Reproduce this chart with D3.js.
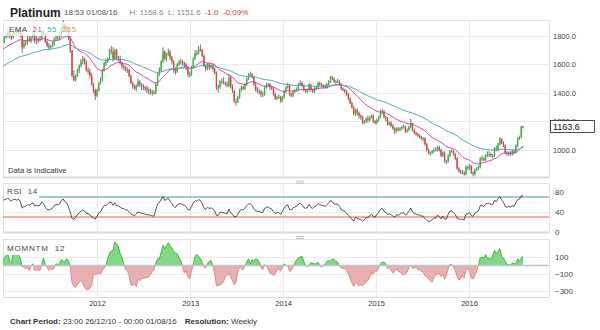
<!DOCTYPE html>
<html>
<head>
<meta charset="utf-8">
<script src="https://cdn.jsdelivr.net/npm/d3@7"></script>
<style>
  body { margin: 0; background: #fff; }
  svg { font-family: "Liberation Sans", Arial, sans-serif; display: block; }
</style>
</head>
<body>
<svg id="chart" width="600" height="330"></svg>
<script>
// ---- Weekly platinum quotes, one candle per week starting Sunday 26/12/2010 ----
const firstWeek = "2010-12-26";

// closes of the 12 weeks before the first candle (Oct - Dec 2010), used by the indicators
const priorCloses = [1690, 1700, 1680, 1700, 1760, 1770, 1670, 1680, 1690, 1710, 1720, 1740];

const closes = [
  1760,
  1790,1800,1830,1800,1790, 1830,1830,1820,1840, 1810,1720,1750,1750, 1780,1770,1790,1810,
  1770,1780,1770,1780,1830, 1810,1760,1730,1720, 1730,1740,1780,1790,1790, 1800,1850,1880,1850,
  1840,1790,1700,1520, 1490,1520,1560,1590,1620, 1640,1620,1560,1550, 1520,1460,1420,1380,
  1420,1470,1490,1560,1610, 1620,1640,1700,1690, 1640,1700,1640,1640, 1610,1590,1580,1560,1560,
  1520,1470,1450,1430, 1450,1480,1460,1450, 1440,1430,1420,1420,1410, 1400,1400,1460,1530,
  1560,1620,1690,1640,1670, 1690,1650,1620,1570, 1550,1600,1620,1620, 1610,1600,1580,1530,1530,
  1580,1640,1680,1680, 1710,1700,1660,1590, 1570,1600,1580,1590,1570, 1540,1440,1440,1480,
  1480,1470,1460,1450, 1510,1440,1410,1340,1340, 1370,1420,1440,1430, 1460,1500,1530,1530,
  1510,1460,1420,1410,1410, 1390,1390,1440,1450, 1460,1440,1430,1390, 1360,1370,1370,1340,1370,
  1410,1440,1450,1390, 1380,1410,1420,1430, 1460,1470,1450,1420,1410, 1420,1460,1420,1410,
  1430,1440,1470,1460, 1450,1450,1440,1460,1480, 1510,1500,1480,1480, 1480,1460,1430,1420,1410,
  1390,1360,1330,1300, 1250,1280,1260,1240, 1230,1190,1200,1220,1210, 1230,1240,1200,1190,
  1210,1230,1260,1270, 1230,1220,1180,1190, 1170,1150,1130,1150,1140, 1150,1160,1160,1130,
  1140,1160,1190,1140,1120, 1110,1100,1090,1080, 1080,1040,1000,980, 980,990,1000,1000,1020,
  1000,960,980,920, 920,960,990,990, 970,940,870,850,840, 840,830,880,880,
  890,840,830,860,870, 880,940,940,930, 960,970,970,960, 960,1010,1000,1040,
  1080,1050,1030,980,970, 980,970,990,980, 1030,1080,1090,1164.6,1163.6
];

const highs = [
  1770,
  1800,1820,1850,1840,1810, 1840,1850,1860,1850, 1860,1820,1770,1770, 1800,1800,1800,1830,
  1870,1800,1790,1800,1840, 1840,1820,1770,1750, 1740,1760,1790,1800,1810, 1830,1860,1920,1890,
  1880,1850,1800,1700, 1560,1530,1570,1600,1640, 1660,1650,1630,1580, 1570,1540,1470,1430,
  1430,1480,1510,1570,1620, 1640,1650,1710,1730, 1720,1710,1710,1660, 1660,1620,1600,1590,1580,
  1570,1530,1480,1460, 1460,1500,1490,1470, 1460,1450,1450,1440,1430, 1420,1420,1470,1540,
  1580,1630,1720,1700,1680, 1710,1700,1660,1630, 1580,1610,1630,1640, 1630,1620,1610,1590,1550,
  1590,1650,1700,1700, 1730,1740,1710,1670, 1600,1610,1610,1600,1600, 1580,1550,1460,1490,
  1500,1510,1480,1480, 1530,1520,1460,1420,1360, 1380,1430,1450,1450, 1470,1510,1540,1550,
  1540,1520,1480,1440,1430, 1420,1410,1450,1470, 1470,1470,1450,1440, 1400,1380,1390,1380,1380,
  1420,1450,1470,1460, 1400,1420,1430,1440, 1470,1490,1480,1460,1430, 1430,1470,1460,1430,
  1440,1450,1480,1480, 1470,1460,1460,1470,1490, 1520,1520,1510,1490, 1500,1490,1470,1440,1430,
  1420,1400,1370,1340, 1310,1290,1290,1270, 1250,1240,1210,1230,1240, 1240,1250,1250,1210,
  1220,1240,1280,1290, 1280,1240,1230,1200, 1200,1180,1160,1160,1160, 1160,1170,1180,1170,
  1150,1170,1220,1190,1150, 1130,1120,1110,1100, 1090,1090,1050,1010, 990,1000,1010,1020,1030,
  1030,1010,990,990, 930,970,1000,1010, 1000,980,950,880,860, 860,850,890,890,
  900,890,850,870,880, 890,950,960,950, 970,990,990,980, 970,1020,1030,1050,
  1090,1080,1060,1040,990, 990,990,1000,1000, 1040,1090,1100,1170,1168.6
];

const lows = [
  1730,
  1750,1780,1790,1780,1770, 1780,1810,1800,1800, 1790,1680,1710,1730, 1740,1760,1750,1780,
  1750,1740,1750,1760,1770, 1800,1750,1720,1700, 1710,1720,1730,1770,1770, 1770,1790,1840,1830,
  1820,1770,1680,1510, 1480,1480,1510,1540,1580, 1600,1600,1550,1530, 1500,1450,1400,1350,
  1370,1410,1460,1480,1550, 1590,1610,1630,1670, 1620,1630,1630,1620, 1600,1570,1560,1550,1540,
  1510,1460,1430,1420, 1410,1440,1440,1420, 1420,1410,1400,1390,1390, 1380,1390,1390,1450,
  1520,1550,1610,1630,1620, 1660,1630,1600,1540, 1530,1540,1590,1600, 1590,1580,1560,1510,1510,
  1520,1570,1630,1660, 1670,1690,1650,1580, 1550,1560,1560,1570,1550, 1530,1420,1400,1430,
  1460,1460,1450,1440, 1440,1430,1400,1330,1310, 1330,1360,1410,1420, 1420,1450,1490,1510,
  1500,1450,1410,1400,1390, 1370,1370,1380,1430, 1440,1420,1420,1380, 1350,1350,1360,1330,1340,
  1360,1400,1430,1380, 1370,1370,1400,1410, 1420,1450,1440,1410,1400, 1400,1410,1410,1400,
  1400,1420,1430,1450, 1440,1430,1430,1430,1450, 1470,1490,1470,1460, 1470,1450,1420,1410,1400,
  1380,1350,1320,1290, 1240,1240,1240,1220, 1210,1180,1180,1190,1190, 1200,1220,1190,1180,
  1180,1200,1220,1250, 1220,1200,1170,1170, 1160,1140,1110,1120,1130, 1130,1140,1150,1120,
  1120,1130,1150,1130,1110, 1100,1090,1080,1070, 1060,1030,990,970, 960,970,980,990,990,
  990,950,950,910, 900,910,950,980, 960,930,860,840,830, 830,820,820,860,
  860,830,815,820,850, 860,870,920,920, 920,950,950,950, 940,950,990,990,
  1030,1040,1020,970,960, 960,960,960,970, 980,1020,1070,1080,1151.6
];

// indicator settings and their starting state carried over from earlier history
const emaPeriods = [21, 55];
const emaSeeds = [1700, 1580];
const rsiPeriod = 14;
const rsiSeedGain = 20, rsiSeedLoss = 13;
const momPeriod = 12;

// tick labels
const priceTicks = [1000, 1200, 1400, 1600, 1800];
const rsiTicks = [0, 40, 80];
const momTicks = [100, -100, -300];
const yearTicks = ["2012", "2013", "2014", "2015", "2016"];

// header / footer text
const titleText = "Platinum";
const timeText = "18:53 01/08/16";
const hiloText = "H: 1168.6  L: 1151.6";
const changeText = "-1.0  -0.09%";
const lastPrice = 1163.6;

// ---------------- derived series ----------------
const parseDay = d3.utcParse("%Y-%m-%d");
const start = parseDay(firstWeek);
const dates = closes.map((c, i) => d3.utcDay.offset(start, 7 * i));
const prevCloseAt = i => (i > 0 ? closes[i - 1] : priorCloses[priorCloses.length - 1]);
const opens = closes.map((c, i) => prevCloseAt(i));

function ema(period, seed) {
  const k = 2 / (period + 1);
  let e = seed;
  return closes.map(c => (e = e + k * (c - e)));
}
const emaLines = emaPeriods.map((p, j) => ema(p, emaSeeds[j]));

let ag = rsiSeedGain, al = rsiSeedLoss;
const rsi = closes.map((c, i) => {
  const ch = c - prevCloseAt(i);
  ag = (ag * (rsiPeriod - 1) + Math.max(ch, 0)) / rsiPeriod;
  al = (al * (rsiPeriod - 1) + Math.max(-ch, 0)) / rsiPeriod;
  return 100 - 100 / (1 + ag / al);
});

const allCloses = priorCloses.concat(closes);
const mom = closes.map((c, i) => c - allCloses[i + priorCloses.length - momPeriod]);

// ---------------- layout ----------------
const svg = d3.select("#chart");
const left = 3, right = 549;
const main = { top: 20, bottom: 177 };
const rsiP = { top: 183, bottom: 232 };
const momP = { top: 239, bottom: 297 };

const x = d3.scaleUtc()
  .domain([new Date(Date.UTC(2010, 11, 16)), new Date(Date.UTC(2016, 10, 10))])
  .range([0, 549]);
const yP = d3.scaleLinear().domain([810, 1912]).range([main.bottom, main.top]);
const yR = d3.scaleLinear().domain([0, 98]).range([rsiP.bottom, rsiP.top]);
const yM = d3.scaleLinear().domain([-375, 315]).range([momP.bottom, momP.top]);

const yearDates = yearTicks.map(y => new Date(Date.UTC(+y, 0, 1)));
const gridColor = "#ebebeb";

const defs = svg.append("defs");
function clip(id, x0, y0, w, h) {
  defs.append("clipPath").attr("id", id).append("rect")
    .attr("x", x0).attr("y", y0).attr("width", w).attr("height", h);
}
clip("clipMain", left, main.top, right - left, main.bottom - main.top);
clip("clipRsi", left, rsiP.top, right - left, rsiP.bottom - rsiP.top);
clip("clipMomUp", left, momP.top, right - left, yM(0) - momP.top);
clip("clipMomDn", left, yM(0), right - left, momP.bottom - yM(0));

// panel frames, grids
[main, rsiP, momP].forEach(p => {
  svg.append("rect").attr("x", left + 0.5).attr("y", p.top + 0.5)
    .attr("width", right - left).attr("height", p.bottom - p.top)
    .attr("fill", "none").attr("stroke", "#e2e2e2");
  svg.append("g").selectAll("line").data(yearDates).join("line")
    .attr("x1", d => Math.round(x(d)) + 0.5).attr("x2", d => Math.round(x(d)) + 0.5)
    .attr("y1", p.top).attr("y2", p.bottom)
    .attr("stroke", gridColor);
});
function hGrid(scale, vals) {
  svg.append("g").selectAll("line").data(vals).join("line")
    .attr("x1", left).attr("x2", right)
    .attr("y1", d => Math.round(scale(d)) + 0.5).attr("y2", d => Math.round(scale(d)) + 0.5)
    .attr("stroke", gridColor);
}
hGrid(yP, priceTicks);
hGrid(yR, [40]);
hGrid(yM, momTicks);

// panel separators with drag handles
[[main.bottom, 2], [rsiP.bottom, 2], [momP.bottom, 1]].forEach(([yy, w]) => {
  svg.append("line").attr("x1", left).attr("x2", right).attr("y1", yy + 0.5).attr("y2", yy + 0.5)
    .attr("stroke", "#d6dce2").attr("stroke-width", w);
});
[181, 236.5].forEach(yy => {
  [0, 2].forEach(dy => svg.append("line")
    .attr("x1", 296).attr("x2", 304).attr("y1", yy + dy).attr("y2", yy + dy)
    .attr("stroke", "#c4c4c4").attr("stroke-width", 1));
});

// ---------------- price panel ----------------
const gMain = svg.append("g").attr("clip-path", "url(#clipMain)");
const candles = gMain.append("g").selectAll("g").data(closes.map((c, i) => i)).join("g");
candles.append("line")
  .attr("x1", i => x(dates[i])).attr("x2", i => x(dates[i]))
  .attr("y1", i => yP(highs[i])).attr("y2", i => yP(lows[i]))
  .attr("stroke", "#666").attr("stroke-width", 0.9);
candles.append("rect")
  .attr("x", i => x(dates[i]) - 0.7).attr("width", 1.4)
  .attr("y", i => yP(Math.max(opens[i], closes[i])))
  .attr("height", i => Math.max(1, Math.abs(yP(opens[i]) - yP(closes[i]))))
  .attr("fill", i => (closes[i] >= opens[i] ? "#2cc42c" : "#f03c3c"));

const emaColors = ["#d4479f", "#46a8c2"];
emaLines.forEach((vals, j) => {
  gMain.append("path")
    .attr("d", d3.line().x((v, i) => x(dates[i])).y(v => yP(v))(vals))
    .attr("fill", "none").attr("stroke", emaColors[j]).attr("stroke-width", 1);
});

const priceAxis = svg.append("g").attr("transform", `translate(553,0)`)
  .call(d3.axisRight(yP).tickValues(priceTicks).tickFormat(d3.format(".1f")).tickSize(0).tickPadding(0));
priceAxis.select(".domain").remove();
priceAxis.selectAll("text").attr("font-size", 7.5).attr("fill", "#444").attr("font-family", null);

// last price marker (drawn over the axis label it sits on)
const lpY = yP(lastPrice);
svg.append("rect").attr("x", 550.5).attr("y", Math.round(lpY) - 6.5).attr("width", 44).attr("height", 12)
  .attr("fill", "#fff").attr("stroke", "#222").attr("stroke-width", 0.8);
svg.append("text").attr("x", 553).attr("y", Math.round(lpY) + 3).attr("font-size", 9).attr("fill", "#111")
  .text(d3.format(".1f")(lastPrice));

// EMA legend
svg.append("rect").attr("x", 5).attr("y", 22).attr("width", 70).attr("height", 14)
  .attr("fill", "#fff").attr("fill-opacity", 0.7);
const emaLegend = svg.append("text").attr("x", 9).attr("y", 32).attr("font-size", 8).attr("letter-spacing", 0.4);
emaLegend.append("tspan").attr("fill", "#444").text("EMA");
emaLegend.append("tspan").attr("dx", 5).attr("fill", emaColors[0]).text("21");
emaLegend.append("tspan").attr("dx", 5).attr("fill", emaColors[1]).text("55");
emaLegend.append("tspan").attr("dx", 5).attr("fill", "#c8a35e").text("255");

svg.append("text").attr("x", 8).attr("y", 173).attr("font-size", 7.7).attr("fill", "#333")
  .text("Data is Indicative");

// ---------------- RSI panel ----------------
svg.append("line").attr("x1", left).attr("x2", right).attr("y1", yR(70)).attr("y2", yR(70))
  .attr("stroke", "#9fc7da").attr("stroke-width", 2);
svg.append("line").attr("x1", left).attr("x2", right).attr("y1", yR(30)).attr("y2", yR(30))
  .attr("stroke", "#f25a5a").attr("stroke-width", 1.2);
svg.append("g").attr("clip-path", "url(#clipRsi)").append("path")
  .attr("d", d3.line().x((v, i) => x(dates[i])).y(v => yR(v))(rsi))
  .attr("fill", "none").attr("stroke", "#2a2a2a").attr("stroke-width", 0.8);

const rsiAxis = svg.append("g").attr("transform", `translate(555,0)`)
  .call(d3.axisRight(yR).tickValues(rsiTicks).tickSize(0).tickPadding(0));
rsiAxis.select(".domain").remove();
rsiAxis.selectAll("text").attr("font-size", 8).attr("fill", "#444").attr("font-family", null);

svg.append("rect").attr("x", 4).attr("y", 184).attr("width", 35).attr("height", 14).attr("fill", "#fff");
svg.append("text").attr("x", 7).attr("y", 194).attr("font-size", 8).attr("fill", "#444")
  .attr("letter-spacing", 0.6).attr("xml:space", "preserve").text("RSI  14");

// ---------------- Momentum panel ----------------
const momArea = d3.area().x((v, i) => x(dates[i])).y0(yM(0)).y1(v => yM(v));
const momLine = d3.line().x((v, i) => x(dates[i])).y(v => yM(v));
const up = svg.append("g").attr("clip-path", "url(#clipMomUp)");
up.append("path").attr("d", momArea(mom)).attr("fill", "#85d685");
up.append("path").attr("d", momLine(mom)).attr("fill", "none").attr("stroke", "#2fb52f").attr("stroke-width", 0.9);
const dn = svg.append("g").attr("clip-path", "url(#clipMomDn)");
dn.append("path").attr("d", momArea(mom)).attr("fill", "#e8b0b0");
dn.append("path").attr("d", momLine(mom)).attr("fill", "none").attr("stroke", "#e07f7f").attr("stroke-width", 0.9);
svg.append("line").attr("x1", left).attr("x2", right).attr("y1", yM(0)).attr("y2", yM(0))
  .attr("stroke", "#b9c7d4").attr("stroke-width", 1.3);

const momAxis = svg.append("g").attr("transform", `translate(555,0)`)
  .call(d3.axisRight(yM).tickValues(momTicks).tickSize(0).tickPadding(0));
momAxis.select(".domain").remove();
momAxis.selectAll("text").attr("font-size", 8).attr("fill", "#444").attr("font-family", null);

svg.append("rect").attr("x", 4).attr("y", 240).attr("width", 66).attr("height", 15).attr("fill", "#fff").attr("fill-opacity", 0.85);
svg.append("text").attr("x", 7).attr("y", 251).attr("font-size", 8).attr("fill", "#444")
  .attr("letter-spacing", 0.8).attr("xml:space", "preserve").text("MOMNTM  12");

// time axis
const xAxis = svg.append("g").attr("transform", `translate(0,${momP.bottom + 2})`)
  .call(d3.axisBottom(x).tickValues(yearDates).tickFormat(d3.utcFormat("%Y")).tickSize(0).tickPadding(2));
xAxis.select(".domain").remove();
xAxis.selectAll("text").attr("font-size", 7.5).attr("fill", "#333").attr("font-family", null);

// ---------------- header and footer ----------------
svg.append("text").attr("x", 10).attr("y", 16.5).attr("font-size", 12).attr("font-weight", "bold")
  .attr("fill", "#222").text(titleText);
const hdr = svg.append("text").attr("x", 64).attr("y", 15).attr("font-size", 8).attr("xml:space", "preserve");
hdr.append("tspan").attr("fill", "#555").text(timeText);
hdr.append("tspan").attr("dx", 12).attr("fill", "#888").text(hiloText);
hdr.append("tspan").attr("dx", 4).attr("fill", "#e03030").text(changeText);

const foot = svg.append("text").attr("x", 10).attr("y", 324).attr("font-size", 8).attr("fill", "#333")
  .attr("xml:space", "preserve");
foot.append("tspan").attr("font-weight", "bold").text("Chart Period:");
foot.append("tspan").text(" 23:00 26/12/10 - 00:00 01/08/16");
foot.append("tspan").attr("dx", 8).attr("font-weight", "bold").text("Resolution:");
foot.append("tspan").text(" Weekly");
</script>
</body>
</html>
